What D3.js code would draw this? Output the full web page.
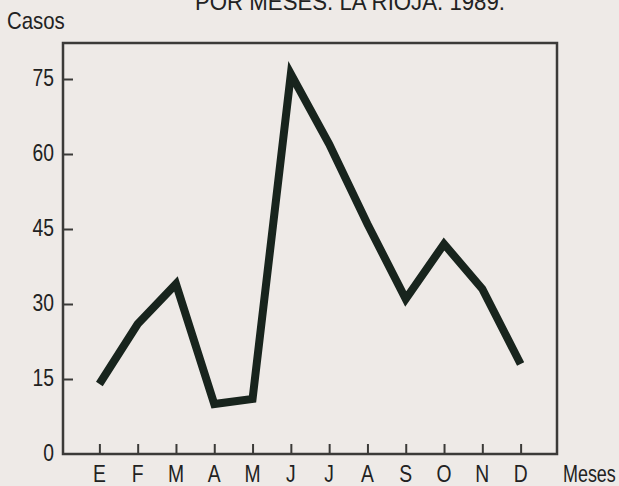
<!DOCTYPE html>
<html>
<head>
<meta charset="utf-8">
<script src="https://cdn.jsdelivr.net/npm/d3@7"></script>
<style>
	body { margin: 0; background: #eeeae7; }
	svg { display: block; }
	text { font-family: "Liberation Sans", Arial, sans-serif; fill: #222; }
</style>
</head>
<body>
<svg id="chart" width="619" height="486"></svg>
<script>
const months = ["E", "F", "M", "A", "M", "J", "J", "A", "S", "O", "N", "D"];
const casos = [14, 26, 34, 10, 11, 76, 62, 46, 31, 42, 33, 18];
const yTicks = [0, 15, 30, 45, 60, 75];
const title = "POR MESES. LA RIOJA. 1989.";

const svg = d3.select("#chart");

const plotLeft = 63, plotRight = 557, plotTop = 43, plotBottom = 454;
const narrow = 0.84; // the scan uses a condensed face

const x = d3
	.scalePoint()
	.domain(d3.range(months.length))
	.range([plotLeft, plotRight])
	.padding(0.95);

const y = d3.scaleLinear().domain([0, 82.2]).range([plotBottom, plotTop]);

// title, cut off at the top of the page
svg.append("text")
	.attr("x", 350)
	.attr("y", 10)
	.attr("text-anchor", "middle")
	.attr("font-size", 24)
	.attr("textLength", 310)
	.attr("lengthAdjust", "spacingAndGlyphs")
	.text(title);

svg.append("text")
	.attr("transform", "translate(7,29) scale(0.85,1)")
	.attr("font-size", 24)
	.text("Casos");

svg.append("text")
	.attr("transform", "translate(563,482) scale(0.78,1)")
	.attr("font-size", 23)
	.text("Meses");

// frame
svg.append("rect")
	.attr("x", plotLeft)
	.attr("y", plotTop)
	.attr("width", plotRight - plotLeft)
	.attr("height", plotBottom - plotTop)
	.attr("fill", "none")
	.attr("stroke", "#3b3a38")
	.attr("stroke-width", 2.5);

// y axis ticks point into the plot
const yAxis = svg.append("g")
	.attr("transform", `translate(${plotLeft},0)`)
	.call(d3.axisRight(y).tickValues(yTicks).tickSize(10).tickFormat(""));
yAxis.select(".domain").remove();
yAxis.selectAll("line").attr("stroke", "#3b3a38").attr("stroke-width", 2);
yAxis.selectAll(".tick").filter((d) => d === 0).remove();

svg.append("g")
	.selectAll("text")
	.data(yTicks)
	.join("text")
	.attr("transform", (d) => `translate(54,${y(d)}) scale(${narrow},1)`)
	.attr("dy", "0.3em")
	.attr("text-anchor", "end")
	.attr("font-size", 23)
	.text((d) => d);

// x axis ticks point upward
const xAxis = svg.append("g")
	.attr("transform", `translate(0,${plotBottom})`)
	.call(d3.axisTop(x).tickSize(10).tickFormat(""));
xAxis.select(".domain").remove();
xAxis.selectAll("line").attr("stroke", "#3b3a38").attr("stroke-width", 2);

svg.append("g")
	.selectAll("text")
	.data(months)
	.join("text")
	.attr("transform", (d, i) => `translate(${x(i)},482) scale(${narrow},1)`)
	.attr("text-anchor", "middle")
	.attr("font-size", 23)
	.text((d) => d);

const line = d3
	.line()
	.x((d, i) => x(i))
	.y((d) => y(d));

svg.append("path")
	.datum(casos)
	.attr("d", line)
	.attr("fill", "none")
	.attr("stroke", "#18241d")
	.attr("stroke-width", 8)
	.attr("stroke-linejoin", "miter")
	.attr("stroke-miterlimit", 10)
	.attr("stroke-linecap", "butt");
</script>
</body>
</html>
